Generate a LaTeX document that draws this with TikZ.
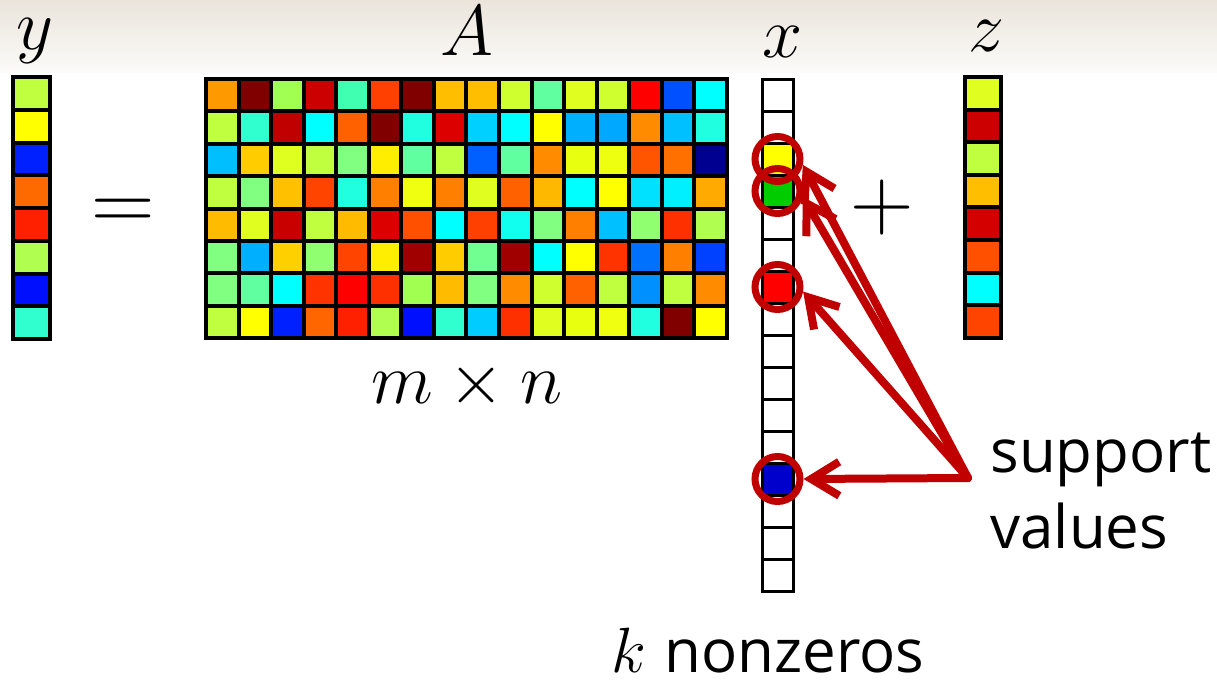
\RequirePackage{fix-cm}
\documentclass[tikz,border=0pt]{standalone}
\usepackage{fontspec}
\setsansfont{Open Sans}
\usepackage{xcolor}
\usetikzlibrary{arrows.meta}

\definecolor{bandtop}{HTML}{EAE4DB}
\definecolor{bandbot}{HTML}{FCFBF9}
\definecolor{suppred}{HTML}{C00000}

\begin{document}
\begin{tikzpicture}[x=0.5pt, y=-0.5pt,
    cell/.style={draw=black, line width=2pt},
    xcell/.style={draw=black, line width=1.5pt},
    sym/.style={inner sep=0pt, anchor=base, font=\fontsize{36}{36}\selectfont},
    bigop/.style={inner sep=0pt, anchor=base, font=\fontsize{44}{44}\selectfont},
    txt/.style={inner sep=0pt, anchor=base west, font=\fontsize{30}{38}\selectfont\sffamily},
    ring/.style={circle, draw=suppred, line width=3.5pt, minimum size=22.5pt, inner sep=0pt},
    pointer/.style={draw=suppred, line width=4pt, line cap=round,
        -{Straight Barb[length=14pt, width=17pt]}}]
    \useasboundingbox (0,0) rectangle (1217,680);
    \shade[top color=bandtop, bottom color=bandbot] (0,0) rectangle (1217,72);

    \foreach \c [count=\i] in {C0FF40,FFFF00,0020FF,FF6A00,FF2000,B0FF50,0010FF,30FFD0} {
        \definecolor{cellc}{HTML}{\c}
        \draw[cell, fill=cellc] (13,{77+(\i-1)*32.75}) rectangle ++(37,32.75);
    }

    \draw[black!45, line width=0.5pt] (204.5,77.5) rectangle (728.5,339.5);
    \foreach \row [count=\i] in {
        {FF9900,800000,A0FF50,CC0000,40FFB0,FF4000,800000,FFBF00,FFBF00,D0FF30,60FFA0,E0FF20,D0FF30,FF0000,0050FF,00FFFF},
        {C0FF40,30FFD0,C00000,00FFFF,FF6000,800000,20FFE0,DD0000,00D0FF,00FFFF,FFFF00,00B0FF,00A8FF,FF8C00,00C0FF,20FFE0},
        {00BFFF,FFCC00,DFFF20,C0FF40,80FF80,FFEE00,60FFA0,C0FF40,0060FF,60FFA0,FF8C00,E8FF10,EEFF10,FF5500,FF7000,000090},
        {C0FF40,80FF80,FFC000,FF4400,20FFE0,FF8000,F0FF10,FF8000,E0FF20,FF6000,FFB800,00FFFF,FFFF00,00E0FF,00F0FF,FFAA00},
        {FFBB00,E0FF20,C80000,C0FF40,FFBB00,DD0000,FF5000,00FFFF,FF4000,10FFEE,80FF80,FF8000,00C0FF,90FF70,FF3000,B0FF50},
        {80FF80,00B0FF,FFD000,90FF70,FF4400,FFEE00,A00000,FFCC00,70FF90,A00000,00FFFF,FFFF00,FF3300,0070FF,FF8000,0040FF},
        {80FF80,60FFA0,00FFFF,FF3300,FF0000,FF3000,A0FF50,FFBB00,80FF80,FF8C00,D0FF30,FF6000,C0FF40,0090FF,C0FF40,FF8C00},
        {C0FF40,FFFF00,0020FF,FF6600,FF2000,B0FF50,0010FF,30FFD0,00CCFF,FF3000,E0FF20,E8FF10,F0FF10,20FFE0,800000,FFFF00}} {
        \foreach \c [count=\j] in \row {
            \definecolor{cellc}{HTML}{\c}
            \draw[cell, fill=cellc] ({206+(\j-1)*32.56},{79+(\i-1)*32.4}) rectangle ++(32.56,32.4);
        }
    }

    \foreach \i in {1,...,16}
        \draw[xcell, fill=white] (762,{79+(\i-1)*32}) rectangle ++(31,32);
    \foreach \i/\c in {3/FFFF00,4/00CC00,7/FF0000,13/0000CC} {
        \definecolor{cellc}{HTML}{\c}
        \draw[xcell, fill=cellc] (762,{79+(\i-1)*32}) rectangle ++(31,32);
    }

    \foreach \c [count=\i] in {E0FF20,CC0000,C0FF40,FFBF00,D40000,FF5000,00FFFF,FF4400} {
        \definecolor{cellc}{HTML}{\c}
        \draw[cell, fill=cellc] (965,{77+(\i-1)*32.6}) rectangle ++(36,32.6);
    }

    \node[sym] (ylab) at (35,49) {$y$};
    \node[sym] (Alab) at (467,55) {$A$};
    \node[sym] (xlab) at (783,57) {$x$};
    \node[sym] (zlab) at (986,52) {$z$};
    \node[sym] (dims) at (467,403) {$m\times n$};
    \node[bigop] (eq) at (123,230) {$=$};
    \node[bigop] (plus) at (882,229) {$+$};
    \node[txt] (nnz) at (611,672) {{\fontsize{32}{32}\selectfont$k$}\hspace{1.5pt} nonzeros};
    \node[txt, align=left] (supp) at (990,548) {support\\values};

    \node[ring] (s3) at (777.5,159) {};
    \node[ring] (s4) at (777.5,191) {};
    \node[ring] (s7) at (777.5,287) {};
    \node[ring] (s13) at (777.5,479) {};

    \coordinate (src) at (968,478);
    \draw[pointer] (src) -- (s3.-13);
    \draw[pointer] (src) -- (s4.-13);
    \draw[pointer] (src) -- (s7.-10);
    \draw[pointer] (src) -- (s13.east);
\end{tikzpicture}
\end{document}
